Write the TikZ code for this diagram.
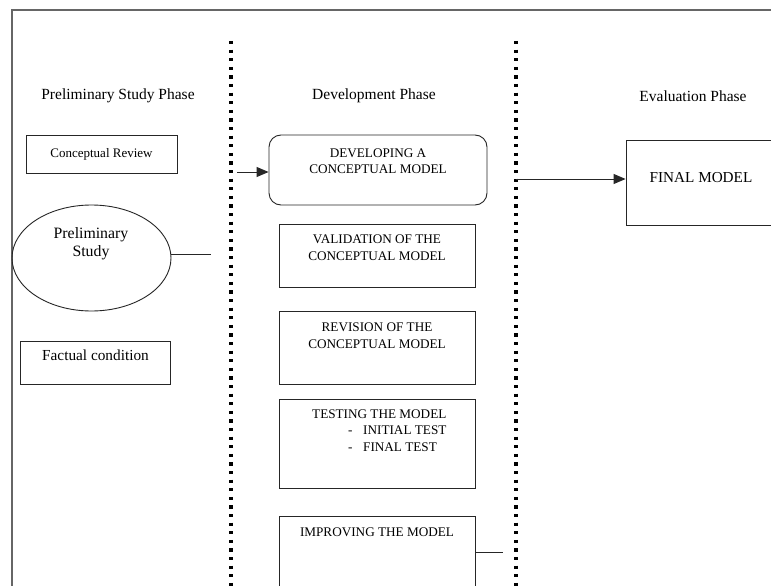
\documentclass[tikz,border=0pt]{standalone}
\usepackage{fontspec}
\setmainfont{Liberation Serif}
\usetikzlibrary{shapes.geometric,arrows.meta}

\begin{document}
\begin{tikzpicture}[x=1pt,y=-1pt,
  box/.style={draw=black!85,line width=0.9pt,inner sep=0pt,minimum width=196pt},
  lbl/.style={anchor=north,align=center,inner sep=0pt,font=\fontsize{13.2}{16.5}\selectfont},
  phase/.style={inner sep=0pt,font=\fontsize{15.5}{18}\selectfont},
  divider/.style={line width=3.2pt,dash pattern=on 3.2pt off 5.4pt},
  link/.style={draw=black!85,line width=0.9pt},
  >={Triangle[length=12pt,width=10pt]}]
  \clip (0,0) rectangle (771,586);
  \fill[white] (0,0) rectangle (771,586);

  % frame and phase dividers
  \draw[black!60,line width=1.4pt] (12,600) -- (12,10) -- (790,10);
  \draw[divider] (231,41) -- (231,600);
  \draw[divider] (516,41) -- (516,600);

  \node[phase] (prephase) at (118,96) {Preliminary Study Phase};
  \node[phase] (devphase) at (374,96) {Development Phase};
  \node[phase] (evalphase) at (693,96) {Evaluation Phase};

  % preliminary study phase
  \node[box,minimum width=151pt,minimum height=38pt,font=\fontsize{13}{15}\selectfont]
    (review) at (101.5,154) {Conceptual Review};
  \node[draw=black!85,line width=0.9pt,ellipse,minimum width=159pt,minimum height=106pt]
    (prelim) at (91.5,258) {};
  \node[lbl,font=\fontsize{15.8}{18}\selectfont] at (91,227) {Preliminary\\Study};
  \node[box,minimum width=149.5pt,minimum height=43pt] (factual) at (95.5,362.5) {};
  \node[lbl,font=\fontsize{15.3}{18}\selectfont] at ([yshift=-9.5pt]factual.north) {Factual condition};
  \coordinate (prelimend) at (211,254);
  \draw[link] (prelimend -| prelim.east) -- (prelimend);

  % development phase
  \node[box,rounded corners=12pt,minimum width=218pt,minimum height=70pt]
    (develop) at (378,170) {};
  \node[lbl] at ([yshift=-14pt]develop.north) {DEVELOPING A\\CONCEPTUAL MODEL};
  \node[box,minimum height=63pt] (valid) at (377,255.5) {};
  \node[lbl] at ([yshift=-11.5pt]valid.north) {VALIDATION OF THE\\CONCEPTUAL MODEL};
  \node[box,minimum height=73pt] (revise) at (377,347.5) {};
  \node[lbl] at ([yshift=-12.5pt]revise.north) {REVISION OF THE\\CONCEPTUAL MODEL};
  \node[box,minimum height=89pt] (testing) at (377,443.5) {};
  \node[lbl,anchor=north west,align=left] at (312,409.5)
    {TESTING THE MODEL\\
     \hspace*{36pt}\makebox[15pt][l]{-}INITIAL TEST\\
     \hspace*{36pt}\makebox[15pt][l]{-}FINAL TEST};
  \node[box,minimum height=100pt] (improve) at (377,566) {};
  \node[lbl] at ([yshift=-12.5pt]improve.north) {IMPROVING THE MODEL};
  \coordinate (improveend) at (503,552);
  \draw[link] (improveend -| improve.east) -- (improveend);

  \coordinate (devin) at (237,172);
  \draw[link,->] (devin) -- (devin -| develop.west);

  % evaluation phase
  \node[box,minimum width=180pt,minimum height=85pt] (final) at (716,182.5) {};
  \node[phase,font=\fontsize{15.2}{18}\selectfont] at (701,178) {FINAL MODEL};
  \coordinate (evalin) at (516,179);
  \draw[link,->] (evalin) -- (evalin -| final.west);
\end{tikzpicture}
\end{document}
